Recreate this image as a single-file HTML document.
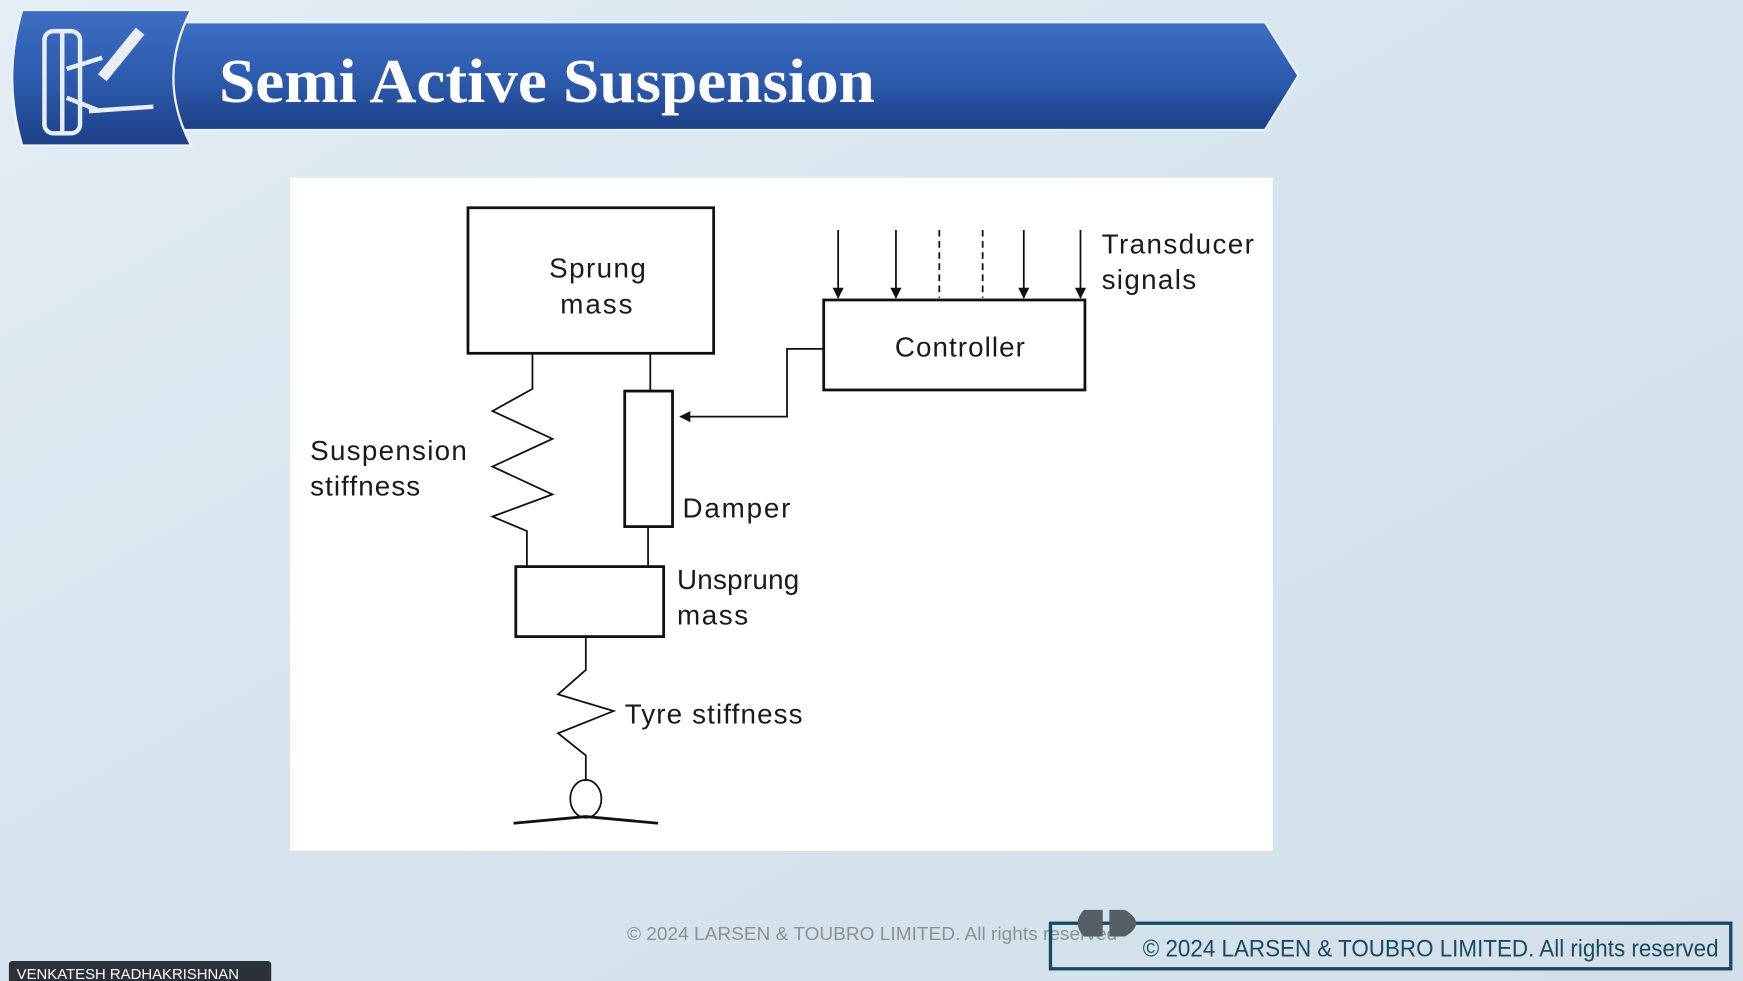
<!DOCTYPE html>
<html><head><meta charset="utf-8"><style>
html,body{margin:0;padding:0;width:1743px;height:981px;overflow:hidden;background:#dbe7f0}
svg{display:block}
</style></head><body>
<svg width="1743" height="981" viewBox="0 0 1568 883" preserveAspectRatio="none" xmlns="http://www.w3.org/2000/svg">
<defs>
<linearGradient id="bg" x1="0" y1="0" x2="1" y2="1">
<stop offset="0" stop-color="#e3edf4"/><stop offset="0.5" stop-color="#d6e4ee"/><stop offset="1" stop-color="#d3e0ea"/></linearGradient>
<linearGradient id="ban" x1="0" y1="0" x2="0" y2="1">
<stop offset="0" stop-color="#3d6fc4"/><stop offset="0.6" stop-color="#2a57a8"/><stop offset="1" stop-color="#1d3f86"/></linearGradient>
<marker id="ah" markerWidth="10" markerHeight="10" refX="9" refY="5" orient="auto" markerUnits="userSpaceOnUse">
<path d="M0,0 L10,5 L0,10 z" fill="#111"/></marker>
</defs>
<rect width="1568" height="883" fill="url(#bg)"/>
<!-- banner -->
<path d="M150,20 L1138,20 L1168,68 L1138,117 L150,117 Q140,68 150,20 z" fill="url(#ban)" stroke="#e8f0f8" stroke-width="2"/>
<path d="M20,9 L172,9 Q140,70 172,131 L20,131 Q2,70 20,9 z" fill="url(#ban)" stroke="#f0f4fa" stroke-width="2"/>
<g stroke="#e8eef4" stroke-width="4" fill="none">
<rect x="40" y="28" width="32" height="92" rx="8"/>
<line x1="56" y1="28" x2="56" y2="120"/>
<line x1="92" y1="70" x2="126" y2="28" stroke-width="10"/>
<line x1="60" y1="62" x2="92" y2="52"/>
<line x1="60" y1="88" x2="90" y2="100"/>
<line x1="80" y1="100" x2="138" y2="96"/>
</g>
<text x="197" y="92" font-family="Liberation Serif, serif" font-weight="bold" font-size="56" fill="#fff" textLength="590" lengthAdjust="spacingAndGlyphs">Semi Active Suspension</text>
<!-- panel -->
<rect x="261" y="160" width="884" height="606" fill="#fff"/>
<g stroke="#111" stroke-width="2.5" fill="none">
<rect x="421" y="187" width="221" height="131"/>
<rect x="741" y="270" width="235" height="81"/>
<rect x="562" y="352" width="43" height="122"/>
<rect x="464" y="510" width="133" height="63"/>
</g>
<g stroke="#111" stroke-width="1.6" fill="none">
<polyline points="479,318 479,350 443,370 497,395 443,420 497,445 443,465 474,478 474,510"/>
<line x1="585" y1="318" x2="585" y2="352"/>
<line x1="583" y1="474" x2="583" y2="510"/>
<polyline points="741,314 708,314 708,375 612,375" marker-end="url(#ah)"/>
<polyline points="527,573 527,603 502,625 552,640 502,660 527,680 527,703"/>
<ellipse cx="527" cy="719" rx="14" ry="17"/>
<polyline points="462,741 527,735 592,741" stroke-width="2.5"/>
<line x1="754" y1="207" x2="754" y2="268" marker-end="url(#ah)"/>
<line x1="806" y1="207" x2="806" y2="268" marker-end="url(#ah)"/>
<line x1="921" y1="207" x2="921" y2="268" marker-end="url(#ah)"/>
<line x1="972" y1="207" x2="972" y2="268" marker-end="url(#ah)"/>
<line x1="845" y1="207" x2="845" y2="268" stroke-dasharray="6,4"/>
<line x1="884" y1="207" x2="884" y2="268" stroke-dasharray="6,4"/>
</g>
<g font-family="Liberation Sans, sans-serif" font-size="25" fill="#1a1a1a" lengthAdjust="spacingAndGlyphs">
<text x="494" y="250" textLength="87">Sprung</text>
<text x="504" y="282" textLength="65">mass</text>
<text x="805" y="321" textLength="117">Controller</text>
<text x="991" y="228" textLength="137">Transducer</text>
<text x="991" y="260" textLength="85">signals</text>
<text x="279" y="414" textLength="141">Suspension</text>
<text x="279" y="446" textLength="99">stiffness</text>
<text x="614" y="466" textLength="97">Damper</text>
<text x="609" y="530" textLength="110">Unsprung</text>
<text x="609" y="562" textLength="64">mass</text>
<text x="562" y="651" textLength="160">Tyre stiffness</text>
</g>
<!-- footer -->
<text x="564" y="846" font-family="Liberation Sans, sans-serif" font-size="17" fill="#8a9299" textLength="441" lengthAdjust="spacingAndGlyphs">© 2024 LARSEN &amp; TOUBRO LIMITED. All rights reserved</text>
<rect x="945" y="831" width="612" height="41" fill="none" stroke="#164a63" stroke-width="3"/>
<text x="1028" y="861" font-family="Liberation Sans, sans-serif" font-size="22" fill="#1a4a60" textLength="518" lengthAdjust="spacingAndGlyphs">© 2024 LARSEN &amp; TOUBRO LIMITED. All rights reserved</text>
<path d="M975,819 L992,819 L992,843 L975,843 Q964,831 975,819 z" fill="#555d66"/>
<path d="M998,819 L1012,819 Q1032,831 1012,843 L998,843 z" fill="#555d66"/>
<rect x="8" y="865" width="236" height="20" rx="3" fill="#2c3138"/>
<text x="15" y="881" font-family="Liberation Sans, sans-serif" font-size="13" fill="#fff" textLength="200" lengthAdjust="spacingAndGlyphs">VENKATESH RADHAKRISHNAN</text>
</svg>
</body></html>
